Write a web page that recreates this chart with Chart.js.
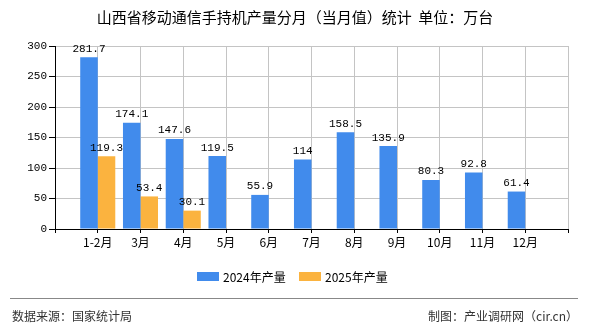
<!DOCTYPE html>
<html>
<head>
<meta charset="utf-8">
<script src="https://cdn.jsdelivr.net/npm/chart.js@4.4.1/dist/chart.umd.min.js"></script>
<style>
  html, body { margin: 0; padding: 0; background: #fff; }
</style>
</head>
<body>
<canvas id="chart" width="590" height="330"></canvas>
<script>
const months = ["1-2月", "3月", "4月", "5月", "6月", "7月", "8月", "9月", "10月", "11月", "12月"];
const output2024 = [281.7, 174.1, 147.6, 119.5, 55.9, 114, 158.5, 135.9, 80.3, 92.8, 61.4];
const output2025 = [119.3, 53.4, 30.1, null, null, null, null, null, null, null, null];
const yTicks = [0, 50, 100, 150, 200, 250, 300];

const titleText = "山西省移动通信手持机产量分月（当月值）统计  单位：万台";
const sourceText = "数据来源：国家统计局";
const creditText = "制图：产业调研网（cir.cn）";

// empty slot on each side so the month ticks sit on grid lines
const labels = [""].concat(months, [""]);
const pad = (arr) => [null].concat(arr, [null]);

const cjk = '"Noto Sans CJK SC", "Noto Sans", sans-serif';
const mono = '"Liberation Mono", "DejaVu Sans Mono", monospace';

const valueLabels = {
  id: "valueLabels",
  afterDatasetsDraw(chart) {
    const ctx = chart.ctx;
    ctx.save();
    ctx.font = "11px " + mono;
    ctx.fillStyle = "#000";
    ctx.textAlign = "center";
    ctx.textBaseline = "bottom";
    chart.data.datasets.forEach((ds, i) => {
      chart.getDatasetMeta(i).data.forEach((bar, j) => {
        const v = ds.data[j];
        if (v === null || v === undefined) return;
        ctx.fillText(String(v), bar.x, bar.y - 3);
      });
    });
    ctx.restore();
  },
};

const decorations = {
  id: "decorations",
  afterDraw(chart) {
    const ctx = chart.ctx;
    ctx.save();
    // title
    ctx.font = "15px " + cjk;
    ctx.fillStyle = "#000";
    ctx.textAlign = "center";
    ctx.textBaseline = "middle";
    ctx.fillText(titleText, 295, 17);

    // legend
    ctx.font = "12px " + cjk;
    ctx.textAlign = "left";
    let x = 197;
    chart.data.datasets.forEach((ds) => {
      ctx.fillStyle = ds.backgroundColor;
      ctx.fillRect(x, 272, 22, 9);
      ctx.fillStyle = "#000";
      ctx.fillText(ds.label, x + 26, 277);
      x += 102;
    });

    // footer
    ctx.strokeStyle = "#888";
    ctx.lineWidth = 1;
    ctx.beginPath();
    ctx.moveTo(10, 298.5);
    ctx.lineTo(578, 298.5);
    ctx.stroke();
    ctx.fillStyle = "#333";
    ctx.font = "12px " + cjk;
    ctx.fillText(sourceText, 12, 316);
    ctx.textAlign = "right";
    ctx.fillText(creditText, 578, 316);
    ctx.restore();
  },
};

new Chart(document.getElementById("chart"), {
  type: "bar",
  data: {
    labels: labels,
    datasets: [
      { label: "2024年产量", data: pad(output2024), backgroundColor: "#418bec", barPercentage: 1, categoryPercentage: 0.82 },
      { label: "2025年产量", data: pad(output2025), backgroundColor: "#fbb33f", barPercentage: 1, categoryPercentage: 0.82 },
    ],
  },
  options: {
    responsive: false,
    animation: false,
    layout: { padding: { top: 46, left: 0, right: 22, bottom: 71 } },
    plugins: {
      legend: { display: false },
      tooltip: { enabled: false },
    },
    scales: {
      x: {
        offset: false,
        grid: { offset: false, color: "#c4c4c4", lineWidth: 1, tickColor: "#000", tickLength: 4 },
        border: { color: "#000" },
        ticks: { color: "#000", font: { family: cjk, size: 12 }, autoSkip: false, maxRotation: 0, padding: 2 },
        afterFit(scale) { scale.height = 30; },
      },
      y: {
        min: 0,
        max: 300,
        afterBuildTicks(scale) { scale.ticks = yTicks.map((v) => ({ value: v })); },
        grid: { color: "#c4c4c4", tickColor: "#000", tickLength: 6 },
        border: { color: "#000" },
        ticks: { color: "#000", font: { family: mono, size: 11 }, padding: 2 },
        afterFit(scale) { scale.width = 55; },
      },
    },
  },
  plugins: [valueLabels, decorations],
});
</script>
</body>
</html>
